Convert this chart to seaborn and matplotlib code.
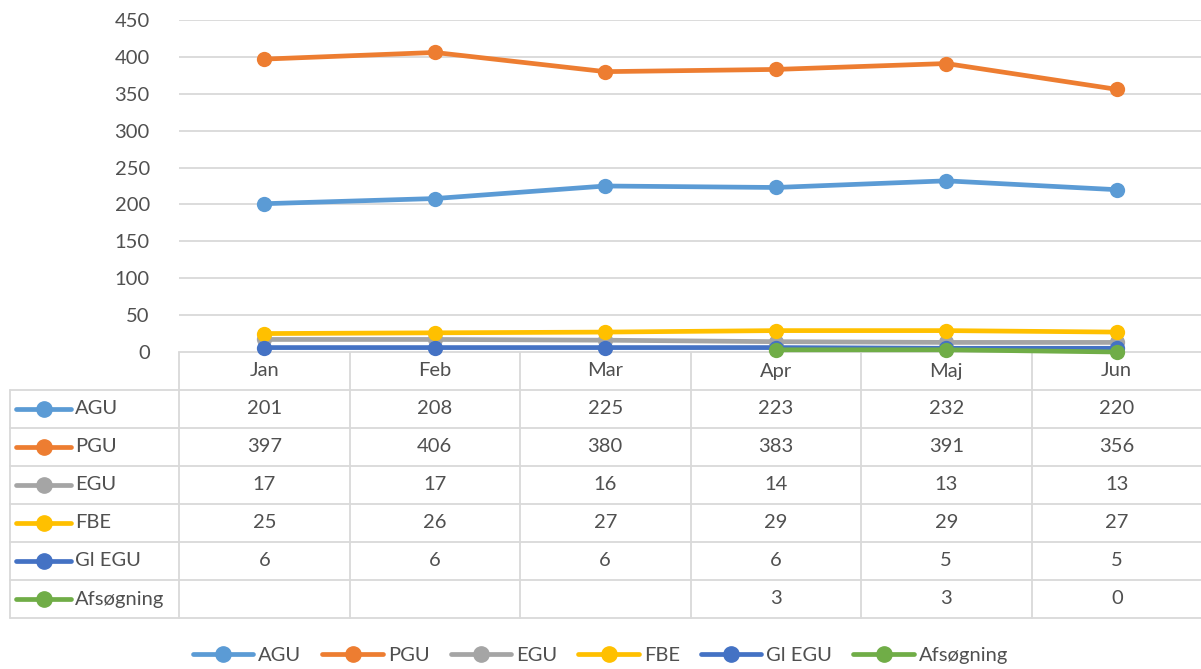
import numpy as np
import pandas as pd
import seaborn as sns
import matplotlib.pyplot as plt
from matplotlib.lines import Line2D

months = ['Jan', 'Feb', 'Mar', 'Apr', 'Maj', 'Jun']
series = ['AGU', 'PGU', 'EGU', 'FBE', 'Gl EGU', 'Afsøgning']
agu = [201, 208, 225, 223, 232, 220]
pgu = [397, 406, 380, 383, 391, 356]
egu = [17, 17, 16, 14, 13, 13]
fbe = [25, 26, 27, 29, 29, 27]
gl_egu = [6, 6, 6, 6, 5, 5]
afsogning = [np.nan, np.nan, np.nan, 3, 3, 0]
colors = ['#5B9BD5', '#ED7D31', '#A5A5A5', '#FFC000', '#4472C4', '#70AD47']

values = [agu, pgu, egu, fbe, gl_egu, afsogning]
df = pd.DataFrame([
    {'series': s, 'x': i, 'month': m, 'value': v}
    for s, vals in zip(series, values)
    for i, (m, v) in enumerate(zip(months, vals))
])

sns.set_style('white')
plt.rcParams['font.family'] = ['Lato', 'DejaVu Sans']
text_color = '#505050'
grid_color = '#D9D9D9'
fs = 14.5
line_w = 3.4
mark_s = 11

W, H = 1201, 669
fig = plt.figure(figsize=(W / 100, H / 100), dpi=100)

# plot area
x0, x1, y_top, y_zero = 179, 1202, 20, 352
ax = fig.add_axes([x0 / W, 1 - y_zero / H, (x1 - x0) / W, (y_zero - y_top) / H])
sns.lineplot(data=df.dropna(), x='x', y='value', hue='series', hue_order=series,
             palette=colors, marker='o', markersize=mark_s, markeredgewidth=0,
             linewidth=line_w, ax=ax, legend=False, sort=True)
for ln in ax.lines:
    ln.set_clip_on(False)
ax.set_xlim(-0.5, len(months) - 0.5)
ax.set_ylim(0, 450)
ax.set_yticks(range(0, 451, 50))
ax.set_xticks([])
ax.set_xlabel('')
ax.set_ylabel('')
ax.tick_params(axis='y', length=0, pad=21, labelsize=fs, labelcolor=text_color)
ax.yaxis.grid(True, color=grid_color, linewidth=1.3)
ax.set_axisbelow(True)
for sp in ax.spines.values():
    sp.set_visible(False)

# data table below the plot
row_h = 38
n_rows = len(series) + 1
tab = fig.add_axes([x0 / W, (H - y_zero - n_rows * row_h) / H, (x1 - x0) / W, n_rows * row_h / H])
tab.set_zorder(-1)
tab.set_xlim(-0.5, len(months) - 0.5)
tab.set_ylim(n_rows, 0)
tab.axis('off')
col_px = (x1 - x0) / len(months)
left_edge = -0.5 - (x0 - 10) / col_px

lw = 1.3
for j in range(len(months) + 1):
    tab.plot([j - 0.5, j - 0.5], [0, n_rows], color=grid_color, lw=lw, clip_on=False)
tab.plot([left_edge, left_edge], [1, n_rows], color=grid_color, lw=lw, clip_on=False)
tab.plot([-0.5, len(months) - 0.5], [0, 0], color=grid_color, lw=lw, clip_on=False)
for r in range(1, n_rows + 1):
    tab.plot([left_edge, len(months) - 0.5], [r, r], color=grid_color, lw=lw, clip_on=False)

for j, m in enumerate(months):
    tab.text(j, 0.5, m, ha='center', va='center', fontsize=fs, color=text_color)

key_a = -0.5 - (x0 - 16) / col_px
key_b = -0.5 - (x0 - 71) / col_px
for r, (s, vals, c) in enumerate(zip(series, values, colors), start=1):
    tab.plot([key_a, key_b], [r + 0.5, r + 0.5], color=c, lw=line_w, clip_on=False,
             solid_capstyle='round')
    tab.plot([(key_a + key_b) / 2], [r + 0.5], 'o', color=c, markersize=mark_s, clip_on=False)
    tab.text(key_b + 0.025, r + 0.5, s, ha='left', va='center', fontsize=fs, color=text_color)
    for j, v in enumerate(vals):
        if not np.isnan(v):
            tab.text(j, r + 0.5, f'{int(v)}', ha='center', va='center', fontsize=fs, color=text_color)

handles = [Line2D([0], [0], color=c, lw=line_w, marker='o', markersize=mark_s, solid_capstyle='round')
           for c in colors]
fig.legend(handles, series, loc='center', bbox_to_anchor=(0.5, 1 - 655 / H), ncol=6,
           frameon=False, fontsize=fs, labelcolor=text_color, handlelength=3.0,
           handletextpad=0.25, columnspacing=1.05)

fig.savefig('out.png', dpi=100)
